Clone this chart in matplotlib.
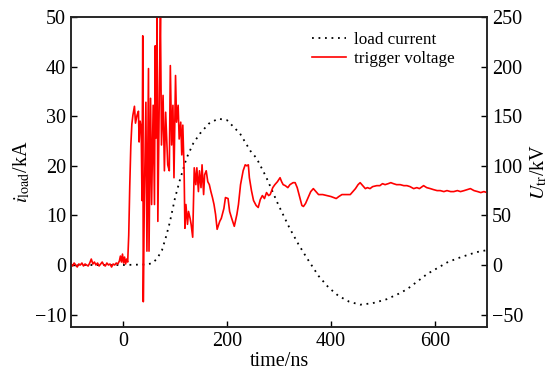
import numpy as np
import matplotlib
matplotlib.use('Agg')
import matplotlib.pyplot as plt

plt.rcParams['font.family'] = 'serif'
plt.rcParams['font.serif'] = ['Liberation Serif', 'DejaVu Serif']
plt.rcParams['mathtext.fontset'] = 'stix'

# load current (kA)
cur_t = [-100, 0, 40, 55, 65, 75, 83, 90, 100, 109, 122, 135, 148, 165, 183,
         200, 225, 245, 257, 275, 298, 320, 337, 353, 376, 395, 414, 435, 456,
         480, 507, 530, 546, 565, 585, 605, 623, 642, 662, 680, 700]
cur_i = [0, 0, 0.1, 0.3, 1.2, 3.0, 5.8, 8.6, 13.5, 17.0, 21.5, 24.5, 26.5,
         28.5, 29.5, 29.2, 26.5, 23.0, 21.5, 17.8, 12.3, 7.5, 4.25, 1.5, -2.2,
         -4.5, -6.2, -7.4, -8.0, -7.7, -6.9, -5.8, -4.9, -3.4, -1.8, -0.6, 0.5,
         1.3, 2.0, 2.6, 3.0]

# trigger voltage (kV)
trig_t = [-100, -97, -94, -91, -88, -85, -82, -79, -76, -73, -70, -67, -64,
          -61, -58, -55, -52, -49, -46, -43, -40, -37, -34, -31, -28, -25, -22,
          -19, -16, -13, -10, -7, -5, -3, -1, 1, 3, 5, 7, 9,
          11, 13, 15, 17, 19, 22, 24, 27, 29.7, 31, 33, 35, 36.5, 38, 39, 41,
          44, 46, 49, 50, 53, 55, 58, 60.5, 62, 63.5, 65.5, 67, 70, 72, 74,
          77, 79.6, 82, 86, 89, 91, 93.5, 96, 98, 101, 103, 106, 108, 111,
          113, 115, 117.5, 119, 121, 124, 126, 129, 131, 134, 137, 140, 142,
          145, 147, 150, 152, 155, 157, 160, 163, 166, 169, 172, 175, 178, 181,
          186, 189, 194, 197, 202, 205, 209, 214, 219, 222, 226, 231, 235, 238,
          241, 243, 247, 251, 256, 260, 264, 268, 272, 276, 280, 283, 288, 292,
          297, 302, 305, 308, 312, 317, 321, 327, 331, 335, 340, 344, 347, 351,
          356, 361, 366, 371, 376, 384, 392, 400, 405, 410, 415, 421, 429, 437,
          442, 447, 452, 456, 461, 466, 470, 475, 480, 488, 494, 499, 504, 510,
          515, 520, 526, 533, 540, 546, 552, 559, 565, 570, 578, 584, 591, 597,
          604, 610, 617, 623, 630, 636, 643, 649, 656, 662, 668, 675, 682, 688,
          694, 700]
trig_v = [1, -1, 2, 0, -2, 1, 0, 2, -1, 1, 0, -1, 2, 6, 1, 3, 0, 2, -1, 1, 3,
          0, -1, 2, 0, 1, -2, 1, 0, 2, 1, 4, 9, 3, 11, 2, 8, 1, 6, 3,
          30, 80, 120, 142, 151, 160, 143, 151, 155, 124, 145, 138, 65, 231,
          -37, 65, 164, 14, 198, 14, 168, 61, 161, 61, 221, 128, 250, 44, 180,
          250, 121, 171, 95, 154, 101, 95, 201, 121, 161, 88, 191, 144, 161,
          127, 144, 111, 141, 95, 37, 61, 41, 54, 47, 41, 28, 98, 81, 98, 74,
          95, 78, 101, 71, 91, 95, 84, 81, 74, 68, 61, 51, 36, 44, 47, 57, 68,
          67, 54, 47, 39, 51, 61, 81, 95, 101, 100, 101, 88, 75, 65, 60, 58,
          66, 70, 67, 73, 70, 71, 78, 81, 84, 88, 84, 81, 80, 78, 81, 83, 83,
          78, 68, 60, 59, 62, 68, 74, 77, 74, 71, 71, 70, 69, 68, 67, 69, 71,
          71, 71, 74, 77, 81, 83, 80, 77, 78, 77, 79, 80, 80, 82, 81, 82, 83,
          82, 81, 81, 80, 80, 79, 77, 78, 77, 80, 78, 77, 76, 75, 75, 74, 75,
          74, 74, 75, 74, 75, 76, 77, 75, 74, 73, 74, 73]

fig = plt.figure(figsize=(5.53, 3.76), dpi=100)
ax = fig.add_axes([0.1284, 0.1303, 0.7523, 0.8245])
ax2 = ax.twinx()

l1, = ax.plot(cur_t, cur_i, color='black', linestyle=(0, (1, 2.6)),
              linewidth=1.3, label='load current')
l2, = ax2.plot(trig_t, trig_v, color='red', linewidth=1.2,
               label='trigger voltage')

ax.set_xlim(-100, 700)
ax.set_ylim(-12.5, 50)
ax2.set_ylim(-62.5, 250)
ax.set_xticks([0, 200, 400, 600])
ax.set_yticks([-10, 0, 10, 20, 30, 40, 50])
ax2.set_yticks([-50, 0, 50, 100, 150, 200, 250])

for a in (ax, ax2):
    a.tick_params(direction='in', length=4, width=1, labelsize=14.5)
    for s in a.spines.values():
        s.set_linewidth(1.1)
        s.set_color('#222222')

ax.set_xlabel('time/ns', fontsize=14.5, labelpad=1)
ax.set_ylabel(r'$i_{\rm load}$/kA', fontsize=14.5, labelpad=2)
ax2.set_ylabel(r'$U_{\rm tr}$/kV', fontsize=14.5, labelpad=4)

ax.legend(handles=[l1, l2], loc='upper left', bbox_to_anchor=(0.562, 0.975),
          frameon=False, fontsize=12.3, handlelength=2.0, handletextpad=0.5,
          labelspacing=0.2, borderaxespad=0)

fig.savefig('out.png', dpi=100)
